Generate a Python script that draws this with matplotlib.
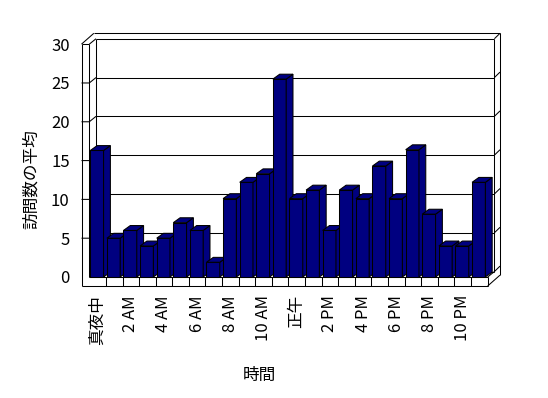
import matplotlib
matplotlib.use("Agg")
import matplotlib.pyplot as plt
from matplotlib.patches import Polygon

plt.rcParams['font.family'] = ['Noto Sans CJK JP', 'DejaVu Sans']

# data: average visits per hour
hours = list(range(24))
visits = [16.3, 5.0, 6.0, 4.0, 5.0, 7.0, 6.0, 1.9, 10.1, 12.2, 13.3, 25.5,
          10.1, 11.2, 6.0, 11.2, 10.1, 14.3, 10.1, 16.4, 8.1, 4.0, 4.0, 12.2]
tick_pos = [0, 2, 4, 6, 8, 10, 12, 14, 16, 18, 20, 22]
tick_labels = ['真夜中', '2 AM', '4 AM', '6 AM', '8 AM', '10 AM',
               '正午', '2 PM', '4 PM', '6 PM', '8 PM', '10 PM']
yticks = [0, 5, 10, 15, 20, 25, 30]

# 3d look (offsets in data units)
W = len(hours)
YMAX = 30
d1 = (0.405, 0.70)    # inner back wall
d2 = (0.742, 1.40)    # outer back wall
bd = (0.41, 0.63)     # bar depth
wall = 0.47           # left wall thickness
fl = 1.16             # floor thickness
navy = '#000080'
lw = 0.75

fig = plt.figure(figsize=(5.48, 3.98), dpi=100)
ax = fig.add_axes([81.5 / 548, 1 - 286 / 398, 418.5 / 548, 252.7 / 398])
ax.set_xlim(-wall, W + d2[0])
ax.set_ylim(-fl, YMAX + d2[1])
for s in ax.spines.values():
    s.set_visible(False)


def line(xs, ys, z=2):
    ax.plot(xs, ys, color='black', lw=lw, zorder=z, clip_on=False,
            solid_capstyle='butt')


# back wall grid lines + ticks over the left wall
for v in yticks[:-1]:
    line([d1[0], W + d1[0]], [v + d1[1], v + d1[1]], z=1)
    line([W + d1[0], W + d2[0]], [v + d1[1], v + d2[1]])
    if v > 0:
        line([-wall, 0, d1[0]], [v, v, v + d1[1]])

# frame of walls
line([-wall, -wall], [-fl, YMAX])
line([-wall, 0], [YMAX, YMAX])
line([0, 0], [0, YMAX])
line([d1[0], d1[0]], [d1[1], YMAX + d1[1]])
line([-wall, -wall + d2[0]], [YMAX, YMAX + d2[1]])
line([0, d1[0]], [YMAX, YMAX + d1[1]])
line([-wall + d2[0], W + d2[0]], [YMAX + d2[1], YMAX + d2[1]])
line([d1[0], W + d1[0]], [YMAX + d1[1], YMAX + d1[1]])
line([W + d1[0], W + d2[0]], [YMAX + d1[1], YMAX + d2[1]])
line([W + d1[0], W + d1[0]], [d1[1], YMAX + d1[1]])
line([W + d2[0], W + d2[0]], [-fl + d2[1], YMAX + d2[1]])

# floor
line([0, W], [0, 0])
line([-wall, W], [-fl, -fl])
line([W, W], [-fl, 0])
line([W, W + d2[0]], [-fl, -fl + d2[1]])
line([W, W + d1[0]], [0, d1[1]])
for i in hours[1:]:
    line([i, i], [-fl, 0])

# bars: front faces through ax.bar, side and top faces as polygons
bx, by = bd
gap, bw = 0.06, 0.80
for i, v in zip(hours, visits):
    x0 = i + gap
    ax.bar(x0, v, bw, align='edge', color=navy, edgecolor='black',
           linewidth=lw, zorder=3)
    side = [(x0 + bw, 0), (x0 + bw + bx, by), (x0 + bw + bx, v + by), (x0 + bw, v)]
    top = [(x0, v), (x0 + bx, v + by), (x0 + bw + bx, v + by), (x0 + bw, v)]
    for pts in (side, top):
        ax.add_patch(Polygon(pts, closed=True, facecolor=navy,
                             edgecolor='black', linewidth=lw, zorder=3))

ax.set_yticks(yticks)
ax.set_yticklabels([str(v) for v in yticks], fontsize=12)
ax.tick_params(axis='y', length=0, pad=8.5)
ax.set_xticks([p + 0.5 for p in tick_pos])
ax.set_xticklabels(tick_labels, rotation=90, fontsize=12)
ax.tick_params(axis='x', length=0, pad=6.5)

fig.text(31 / 548, 1 - 179 / 398, '訪問数の平均', rotation=90,
         ha='center', va='center', fontsize=12)
fig.text(259 / 548, 1 - 375 / 398, '時間', ha='center', va='center',
         fontsize=12)

fig.savefig('out.png', dpi=100)
